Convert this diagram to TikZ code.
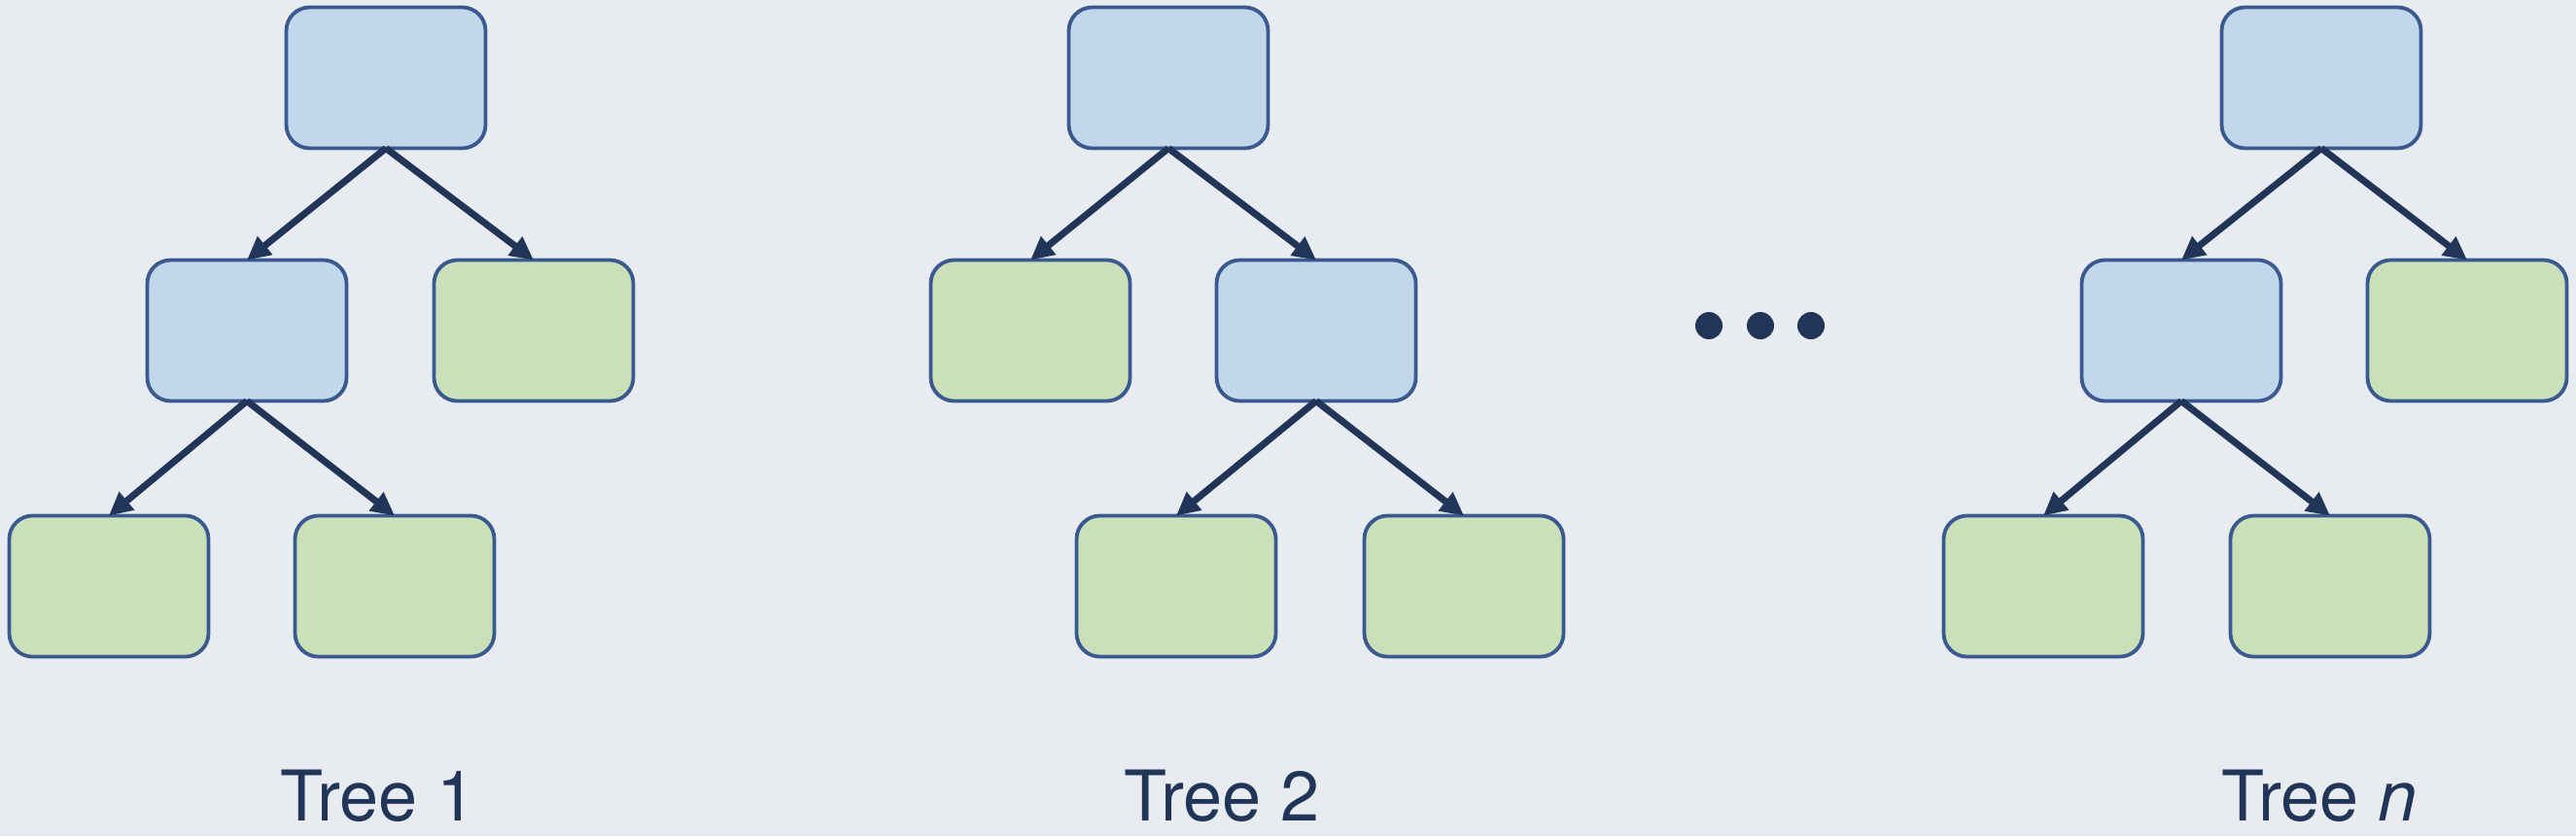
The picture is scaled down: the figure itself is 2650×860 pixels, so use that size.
\documentclass[tikz,border=0pt]{standalone}
\usepackage{fontspec}
\setmainfont{TeX Gyre Heros}
\usetikzlibrary{arrows.meta}
\definecolor{bgc}{HTML}{E8ECF0}
\definecolor{bluefill}{HTML}{C2D7EB}
\definecolor{greenfill}{HTML}{CBDFB9}
\definecolor{edgec}{HTML}{3A5A8F}
\definecolor{arrowc}{HTML}{203558}
\begin{document}
\begin{tikzpicture}[x=1pt,y=-1pt,
  treebox/.style={draw=edgec, line width=3.8pt, rounded corners=24pt, minimum width=205pt, minimum height=145pt, inner sep=0pt, outer sep=0pt},
  inner/.style={treebox, fill=bluefill},
  leaf/.style={treebox, fill=greenfill},
  edge/.style={draw=arrowc, line width=7pt, -{Triangle[length=24pt,width=23pt]}},
  lbl/.style={text=arrowc, font=\fontsize{72}{80}\selectfont, anchor=base, inner sep=0pt},
  dot/.style={circle, fill=arrowc, minimum size=28pt, inner sep=0pt}]
\useasboundingbox (0,0) rectangle (2650,860);
\fill[bgc] (0,0) rectangle (2650,860);
% Tree 1
\node[inner] (a0) at (397,80) {};
\node[inner] (a1) at (254,340) {};
\node[leaf] (a2) at (549,340) {};
\node[leaf] (a3) at (112,603) {};
\node[leaf] (a4) at (406,603) {};
\draw[edge] (a0.south) -- (a1.north);
\draw[edge] (a0.south) -- (a2.north);
\draw[edge] (a1.south) -- (a3.north);
\draw[edge] (a1.south) -- (a4.north);
\node[lbl] (la) at (389,844) {Tree 1};
% Tree 2
\node[inner] (b0) at (1202,80) {};
\node[leaf] (b1) at (1060,340) {};
\node[inner] (b2) at (1354,340) {};
\node[leaf] (b3) at (1210,603) {};
\node[leaf] (b4) at (1506,603) {};
\draw[edge] (b0.south) -- (b1.north);
\draw[edge] (b0.south) -- (b2.north);
\draw[edge] (b2.south) -- (b3.north);
\draw[edge] (b2.south) -- (b4.north);
\node[lbl] (lb) at (1257,844) {Tree 2};
% dots
\node[dot] (d1) at (1758,335) {};
\node[dot] (d2) at (1811,335) {};
\node[dot] (d3) at (1863,335) {};
% Tree n
\node[inner] (c0) at (2388,80) {};
\node[inner] (c1) at (2244,340) {};
\node[leaf] (c2) at (2538,340) {};
\node[leaf] (c3) at (2102,603) {};
\node[leaf] (c4) at (2397,603) {};
\draw[edge] (c0.south) -- (c1.north);
\draw[edge] (c0.south) -- (c2.north);
\draw[edge] (c1.south) -- (c3.north);
\draw[edge] (c1.south) -- (c4.north);
\node[lbl] (lc) at (2386,844) {Tree \textit{n}};
\end{tikzpicture}
\end{document}
